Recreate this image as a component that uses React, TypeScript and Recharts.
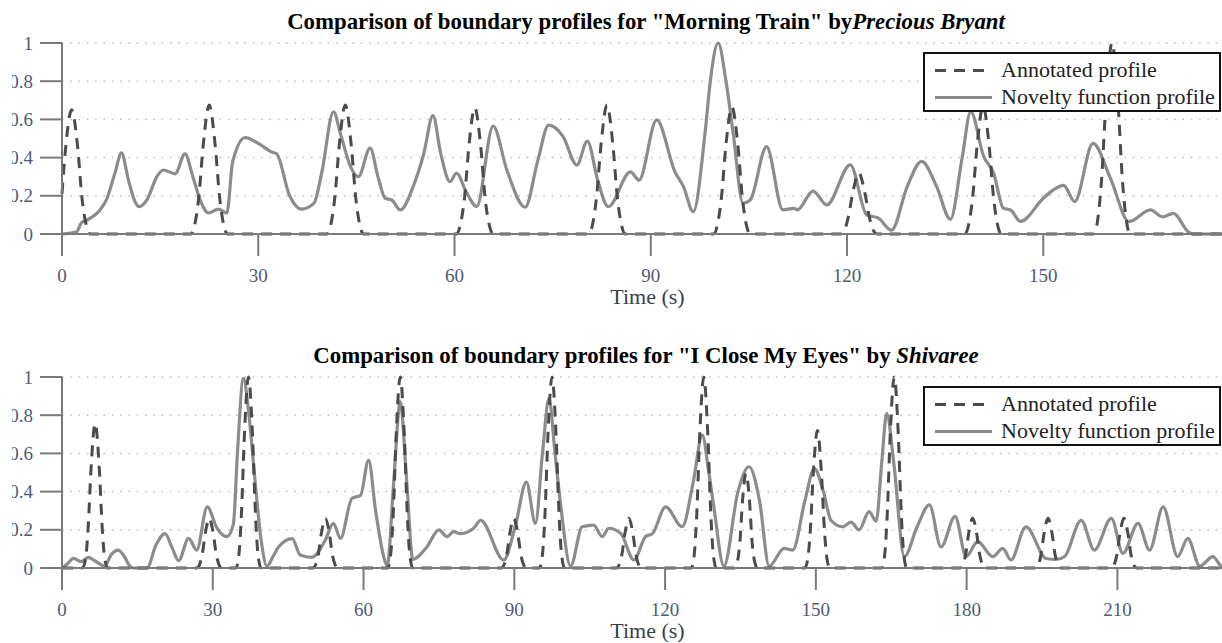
import React from "react";
import { CartesianGrid, Legend, Line, LineChart, XAxis, YAxis } from "recharts";

type Pt = { t: number; v: number };

const SERIF = "'Liberation Serif', 'Times New Roman', serif";
const SOLID = "#8c8c8c";
const DASH = "#4b4b4b";
const AXIS = "#7a7a7a";
const TICK = "#4f5a76";

const yTicks = [0, 0.2, 0.4, 0.6, 0.8, 1];
const xTicks1 = [0, 30, 60, 90, 120, 150];
const xTicks2 = [0, 30, 60, 90, 120, 150, 180, 210];

const legendItems = [
  { name: "Annotated profile", dashed: true },
  { name: "Novelty function profile", dashed: false },
];

// "Morning Train" – novelty function profile [t, value]
const novelty1 = [
  [0, 0], [2.2, 0.01], [3.0, 0.06], [3.8, 0.073], [5.8, 0.126], [6.8, 0.18], [8.1, 0.32], [9.1, 0.425],
  [10.1, 0.29], [11.2, 0.166], [11.8, 0.143], [13.0, 0.18], [14.5, 0.3], [15.5, 0.335], [17.3, 0.315],
  [18.8, 0.42], [20.0, 0.3], [21.1, 0.18], [22.4, 0.11], [23.9, 0.13], [25.2, 0.11], [26.1, 0.38],
  [28.0, 0.505], [30.2, 0.47], [32.0, 0.43], [32.8, 0.42], [34.8, 0.2], [36.6, 0.13], [38.5, 0.16],
  [39.7, 0.32], [41.5, 0.64], [42.6, 0.52], [44.1, 0.353], [45.3, 0.3], [47.1, 0.45], [48.3, 0.3],
  [49.4, 0.187], [50.4, 0.178], [51.7, 0.126], [53.7, 0.25], [55.3, 0.42], [56.7, 0.62], [57.9, 0.42],
  [59.3, 0.274], [60.3, 0.318], [61.8, 0.22], [63.4, 0.144], [65.9, 0.565], [68.0, 0.335], [70.8, 0.14],
  [72.7, 0.38], [74.4, 0.57], [76.6, 0.51], [78.7, 0.361], [80.3, 0.486], [81.9, 0.28], [83.5, 0.143],
  [86.9, 0.325], [88.2, 0.282], [90.9, 0.597], [93.7, 0.325], [95.0, 0.248], [96.5, 0.117], [98.3, 0.53],
  [99.1, 0.8], [100.3, 1.0], [101.5, 0.8], [102.6, 0.527], [104.1, 0.161], [105.2, 0.178], [107.7, 0.457],
  [110.2, 0.126], [111.9, 0.134], [112.4, 0.126], [114.8, 0.225], [116.9, 0.152], [120.5, 0.362],
  [123.0, 0.1], [124.8, 0.083], [126.8, 0.02], [129.2, 0.248], [131.4, 0.38], [133.7, 0.248],
  [135.8, 0.077], [137.6, 0.4], [138.9, 0.64], [140.9, 0.405], [142.4, 0.32], [143.9, 0.135],
  [145.0, 0.126], [146.5, 0.066], [150.0, 0.187], [151.5, 0.23], [153.1, 0.255], [154.8, 0.17],
  [157.6, 0.474], [160.3, 0.288], [163.1, 0.065], [166.4, 0.126], [168.2, 0.09], [169.9, 0.108],
  [172.2, 0.01], [172.9, 0], [179, 0],
];

// "Morning Train" – annotated boundary profile [t, value]
const annotated1 = [
  [0, 0.21], [0.58, 0.46], [1.48, 0.65], [2.38, 0.46], [3.08, 0.18], [3.68, 0.05], [4.3, 0],
  [19.7, 0], [20.3, 0.05], [20.9, 0.19], [21.6, 0.47], [22.5, 0.675], [23.4, 0.47], [24.1, 0.19], [24.7, 0.05], [25.3, 0],
  [40.5, 0], [41.1, 0.05], [41.7, 0.19], [42.4, 0.47], [43.3, 0.675], [44.2, 0.47], [44.9, 0.19], [45.5, 0.05], [46.1, 0],
  [60.3, 0], [60.9, 0.05], [61.5, 0.18], [62.2, 0.46], [63.1, 0.66], [64.0, 0.46], [64.7, 0.18], [65.3, 0.05], [65.9, 0],
  [80.5, 0], [81.1, 0.05], [81.7, 0.19], [82.4, 0.47], [83.3, 0.675], [84.2, 0.47], [84.9, 0.19], [85.5, 0.05], [86.1, 0],
  [99.6, 0], [100.2, 0.05], [100.8, 0.19], [101.5, 0.47], [102.4, 0.665], [103.3, 0.47], [104.0, 0.19], [104.6, 0.05], [105.2, 0],
  [119.0, 0], [119.6, 0.02], [120.2, 0.09], [120.9, 0.22], [121.8, 0.32], [122.7, 0.22], [123.4, 0.09], [124.0, 0.02], [124.6, 0],
  [138.0, 0], [138.6, 0.05], [139.2, 0.19], [139.9, 0.47], [140.8, 0.67], [141.7, 0.47], [142.4, 0.19], [143.0, 0.05], [143.6, 0],
  [157.7, 0], [158.3, 0.07], [158.9, 0.28], [159.6, 0.7], [160.5, 1.0], [161.4, 0.7], [162.1, 0.28], [162.7, 0.07], [163.3, 0],
  [179, 0],
];

// "I Close My Eyes" – novelty function profile [t, value]
const novelty2 = [
  [0, 0], [1, 0.02], [2.3, 0.05], [3.9, 0.033], [5.2, 0.056], [6.4, 0.04], [7.6, 0.02], [8.5, 0.01],
  [9.8, 0.07], [11.2, 0.094], [12.4, 0.06], [13.5, 0.01], [14.2, 0], [16.9, 0], [18.7, 0.12], [20.5, 0.18],
  [22.0, 0.1], [23.2, 0.038], [25.2, 0.155], [26.8, 0.094], [28.9, 0.32], [30.8, 0.21], [32.8, 0.164],
  [34.1, 0.23], [34.9, 0.6], [36.1, 0.993], [37.2, 0.8], [38.4, 0.46], [39.6, 0.15], [40.8, 0.01],
  [42.0, 0.06], [43.1, 0.11], [45.8, 0.154], [47.4, 0.068], [49.7, 0.056], [52.4, 0.147], [54.0, 0.234],
  [55.4, 0.155], [57.7, 0.365], [59.4, 0.38], [61.0, 0.565], [62.4, 0.3], [64.0, 0.06], [64.7, 0.01],
  [66.0, 0.45], [67.3, 0.87], [68.6, 0.45], [69.8, 0.045], [72.6, 0.11], [75.0, 0.2], [76.6, 0.164],
  [77.9, 0.19], [79.3, 0.18], [81.9, 0.208], [83.3, 0.25], [87.9, 0.042], [90.2, 0.22], [92.4, 0.45],
  [94.2, 0.234], [95.6, 0.6], [96.9, 0.888], [98.1, 0.6], [99.2, 0.335], [101.2, 0.01], [103.5, 0.216],
  [105.8, 0.225], [107.5, 0.164], [108.8, 0.208], [111.2, 0.18], [113.8, 0.042], [116.1, 0.164],
  [117.5, 0.18], [120.1, 0.32], [123.4, 0.216], [125.6, 0.45], [127.4, 0.696], [128.7, 0.5], [129.7, 0.32],
  [131.7, 0.01], [134.5, 0.4], [136.7, 0.53], [138.8, 0.35], [140.7, 0.01], [143.7, 0.103], [145.4, 0.094],
  [147.8, 0.35], [149.7, 0.52], [151.5, 0.4], [153.0, 0.25], [155.3, 0.216], [157.0, 0.24], [158.6, 0.2],
  [160.6, 0.295], [162.0, 0.245], [163.1, 0.55], [164.1, 0.81], [165.5, 0.55], [167.6, 0.06], [170.2, 0.22],
  [172.6, 0.33], [174.9, 0.11], [177.7, 0.27], [179.9, 0.06], [182.2, 0.138], [185.2, 0.06], [187.2, 0.103],
  [188.8, 0.042], [191.8, 0.216], [195.8, 0.05], [197.8, 0.045], [199.5, 0.06], [202.8, 0.25], [205.4, 0.094],
  [208.8, 0.26], [211.1, 0.077], [214.1, 0.234], [216.4, 0.094], [219.1, 0.32], [222.0, 0.06], [224.0, 0.155],
  [226.4, 0.01], [229.0, 0.06], [230.7, 0.01], [233, 0],
];

// "I Close My Eyes" – annotated boundary profile [t, value]
const annotated2 = [
  [0, 0], [4.1, 0], [4.7, 0.05], [5.2, 0.21], [5.8, 0.53], [6.6, 0.757], [7.4, 0.53], [8.0, 0.21], [8.5, 0.05], [9.1, 0],
  [26.8, 0], [27.4, 0.02], [27.9, 0.07], [28.5, 0.18], [29.3, 0.26], [30.1, 0.18], [30.7, 0.07], [31.2, 0.02], [31.8, 0],
  [34.6, 0], [35.2, 0.07], [35.7, 0.28], [36.3, 0.7], [37.1, 1.0], [37.9, 0.7], [38.5, 0.28], [39.0, 0.07], [39.6, 0],
  [49.9, 0], [50.5, 0.02], [51.0, 0.07], [51.6, 0.18], [52.4, 0.26], [53.2, 0.18], [53.8, 0.07], [54.3, 0.02], [54.9, 0],
  [64.8, 0], [65.4, 0.07], [65.9, 0.28], [66.5, 0.7], [67.3, 1.0], [68.1, 0.7], [68.7, 0.28], [69.2, 0.07], [69.8, 0],
  [87.4, 0], [88.0, 0.02], [88.5, 0.07], [89.1, 0.18], [89.9, 0.26], [90.7, 0.18], [91.3, 0.07], [91.8, 0.02], [92.4, 0],
  [95.0, 0], [95.6, 0.07], [96.1, 0.28], [96.7, 0.7], [97.5, 1.0], [98.3, 0.7], [98.9, 0.28], [99.4, 0.07], [100.0, 0],
  [110.3, 0], [110.9, 0.02], [111.4, 0.07], [112.0, 0.18], [112.8, 0.26], [113.6, 0.18], [114.2, 0.07], [114.7, 0.02], [115.3, 0],
  [125.2, 0], [125.8, 0.07], [126.3, 0.28], [126.9, 0.7], [127.7, 1.0], [128.5, 0.7], [129.1, 0.28], [129.6, 0.07], [130.2, 0],
  [133.8, 0], [134.4, 0.035], [134.9, 0.14], [135.4, 0.35], [136.1, 0.495], [136.8, 0.35], [137.3, 0.14], [137.8, 0.035], [138.4, 0],
  [147.8, 0], [148.4, 0.05], [148.9, 0.2], [149.5, 0.5], [150.3, 0.72], [151.1, 0.5], [151.7, 0.2], [152.2, 0.05], [152.8, 0],
  [163.1, 0], [163.7, 0.07], [164.2, 0.28], [164.8, 0.7], [165.6, 1.0], [166.4, 0.7], [167.0, 0.28], [167.5, 0.07], [168.1, 0],
  [178.7, 0], [179.3, 0.02], [179.8, 0.07], [180.4, 0.18], [181.2, 0.26], [182.0, 0.18], [182.6, 0.07], [183.1, 0.02], [183.7, 0],
  [193.7, 0], [194.3, 0.02], [194.8, 0.07], [195.4, 0.18], [196.2, 0.26], [197.0, 0.18], [197.6, 0.07], [198.1, 0.02], [198.7, 0],
  [208.8, 0], [209.4, 0.02], [209.9, 0.07], [210.5, 0.18], [211.3, 0.26], [212.1, 0.18], [212.7, 0.07], [213.2, 0.02], [213.8, 0],
  [233, 0],
];

const toPts = (arr: number[][]): Pt[] => arr.map(([t, v]) => ({ t, v }));

// plot area starts at x=102 inside each chart; labels end 29px to the left of it
const PLOT_LEFT = 102;

const YTick = (props: any) => {
  const { y, payload } = props;
  return (
    <g>
      <line x1={PLOT_LEFT - 22} x2={PLOT_LEFT} y1={y} y2={y} stroke={AXIS} strokeWidth={2} />
      <text x={PLOT_LEFT - 29} y={y} dy="0.35em" textAnchor="end" fill={TICK} fontSize={19} fontFamily={SERIF}>
        {payload.value}
      </text>
    </g>
  );
};

const renderLegend = () => (
  <div
    style={{
      position: "relative",
      width: 298,
      height: 60,
      boxSizing: "border-box",
      border: "2px solid #111",
      background: "#fff",
      fontFamily: SERIF,
      fontSize: 22,
      color: "#222",
    }}
  >
    {legendItems.map((it, i) => (
      <div
        key={it.name}
        style={{ position: "absolute", left: 0, top: 2.5 + i * 27, height: 27, display: "flex", alignItems: "center", whiteSpace: "nowrap" }}
      >
        <svg width={76} height={27} style={{ display: "block" }}>
          <line
            x1={10}
            x2={67}
            y1={13.5}
            y2={13.5}
            stroke={it.dashed ? DASH : SOLID}
            strokeWidth={3}
            strokeDasharray={it.dashed ? "11 8" : undefined}
          />
        </svg>
        <span>{it.name}</span>
      </div>
    ))}
  </div>
);

type PanelProps = {
  top: number;
  title: string;
  artist: string;
  xMax: number;
  xTicks: number[];
  novelty: number[][];
  annotated: number[][];
};

function Panel({ top, title, artist, xMax, xTicks, novelty, annotated }: PanelProps) {
  return (
    // the figure is clipped 12px from the page edge, which cuts the y tick labels
    <div style={{ position: "absolute", left: 12, top, width: 1210, height: 309, overflow: "hidden" }}>
      <div style={{ position: "absolute", left: -52, top: 0, width: 1273, height: 309 }}>
        <div
          style={{
            position: "absolute",
            left: 686,
            top: 9,
            transform: "translateX(-50%)",
            whiteSpace: "nowrap",
            fontFamily: SERIF,
            fontWeight: "bold",
            fontSize: 22.8,
            lineHeight: "26px",
            color: "#000",
          }}
        >
          {title}
          <i>{artist}</i>
        </div>
        <LineChart width={1273} height={309} margin={{ top: 43, right: 0, bottom: 0, left: 42 }}>
          <CartesianGrid vertical={false} stroke="#bdbdbd" strokeWidth={1.5} strokeDasharray="1.5 6.8" />
          <XAxis
            type="number"
            dataKey="t"
            domain={[0, xMax]}
            ticks={xTicks}
            height={75}
            tickSize={22}
            tickMargin={13}
            stroke={AXIS}
            strokeWidth={2}
            tick={{ fill: TICK, fontSize: 19, fontFamily: SERIF }}
            label={{ value: "Time (s)", position: "insideBottom", offset: 5, fill: "#3a3f4e", fontSize: 22, fontFamily: SERIF }}
          />
          <YAxis
            type="number"
            domain={[0, 1]}
            ticks={yTicks}
            width={60}
            tickLine={false}
            stroke={AXIS}
            strokeWidth={2}
            tick={YTick}
          />
          <Legend
            layout="horizontal"
            verticalAlign="middle"
            align="center"
            wrapperStyle={{ left: 963, top: 52, width: 298, height: 60 }}
            content={renderLegend}
          />
          <Line
            data={toPts(novelty)}
            dataKey="v"
            name="Novelty function profile"
            type="monotone"
            stroke={SOLID}
            strokeWidth={3.2}
            dot={false}
            isAnimationActive={false}
          />
          <Line
            data={toPts(annotated)}
            dataKey="v"
            name="Annotated profile"
            type="monotone"
            stroke={DASH}
            strokeWidth={3}
            strokeDasharray="11 8"
            dot={false}
            isAnimationActive={false}
          />
        </LineChart>
      </div>
    </div>
  );
}

export default function App() {
  return (
    <div style={{ position: "fixed", left: 0, top: 0, width: 1222, height: 643, overflow: "hidden", background: "#fff" }}>
      <Panel
        top={0}
        title={'Comparison of boundary profiles for "Morning Train" by'}
        artist="Precious Bryant"
        xMax={179}
        xTicks={xTicks1}
        novelty={novelty1}
        annotated={annotated1}
      />
      <Panel
        top={334}
        title={'Comparison of boundary profiles for "I Close My Eyes" by '}
        artist="Shivaree"
        xMax={233}
        xTicks={xTicks2}
        novelty={novelty2}
        annotated={annotated2}
      />
    </div>
  );
}
